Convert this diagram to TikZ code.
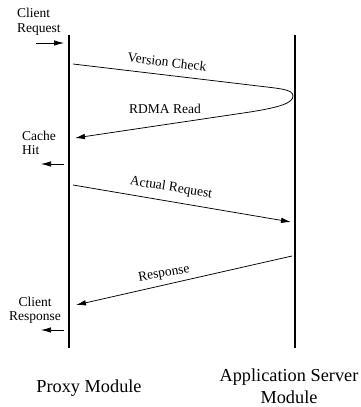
\documentclass[tikz,border=0pt]{standalone}
\usepackage{fontspec}
\setmainfont{Liberation Serif}
\usetikzlibrary{arrows.meta}
\begin{document}
\begin{tikzpicture}[x=1pt,y=-1pt,
  lifeline/.style={line width=1.6pt},
  msg/.style={line width=0.75pt,-{Latex[length=10pt,width=5.5pt]}},
  small/.style={font=\fontsize{13.5}{14.5}\selectfont,inner sep=0pt},
  big/.style={font=\fontsize{18.3}{22}\selectfont,inner sep=0pt,align=center},
  lbl/.style={font=\fontsize{13.5}{14.5}\selectfont,inner sep=0pt}]
\useasboundingbox (0,0) rectangle (360,407);
% lifelines
\coordinate (Ltop) at (69,35);
\coordinate (Lbot) at (69,348);
\coordinate (Rtop) at (295,35);
\coordinate (Rbot) at (295,348);
\draw[lifeline] (Ltop) -- (Lbot);
\draw[lifeline] (Rtop) -- (Rbot);
% side labels
\node[small,align=left,anchor=west] (creq) at (17,22) {Client\\Request};
\node[small,align=left,anchor=west] (chit) at (22,143) {Cache\\Hit};
\node[small,align=center] (cresp) at (35,310) {Client\\Response};
% side arrows
\coordinate (crA) at (36,43);  \coordinate (crB) at (64,43);
\coordinate (chA) at (64,164); \coordinate (chB) at (41,164);
\coordinate (cpA) at (64,330); \coordinate (cpB) at (41,330);
\draw[msg] (crA) -- (crB);
\draw[msg] (chA) -- (chB);
\draw[msg] (cpA) -- (cpB);
% version check / RDMA read loop
\coordinate (vcS) at (73,64);
\coordinate (vc1) at (250,85);
\coordinate (vcT) at (293,96);
\coordinate (vc2) at (250,112);
\coordinate (vcE) at (75,138);
\draw[msg] (vcS) -- (vc1) .. controls +(30,3.7) and +(0,-7) .. (vcT)
  .. controls +(0,7) and +(30,-4.8) .. (vc2) -- (vcE);
\node[lbl,rotate=-7] (vclab) at (167,62) {Version Check};
\node[lbl] (rdlab) at (165,109) {RDMA Read};
% actual request
\coordinate (arS) at (73,185);
\coordinate (arE) at (291,222);
\draw[msg] (arS) -- (arE);
\node[lbl,rotate=-9] (arlab) at (171,188) {Actual Request};
% response
\coordinate (rsS) at (292,256);
\coordinate (rsE) at (76,305);
\draw[msg] (rsS) -- (rsE);
\node[lbl,rotate=10] (rslab) at (164,274) {Response};
% bottom labels
\node[big] (proxy) at (89,388) {Proxy Module};
\node[big] (app) at (289,386) {Application Server\\Module};
\end{tikzpicture}
\end{document}
